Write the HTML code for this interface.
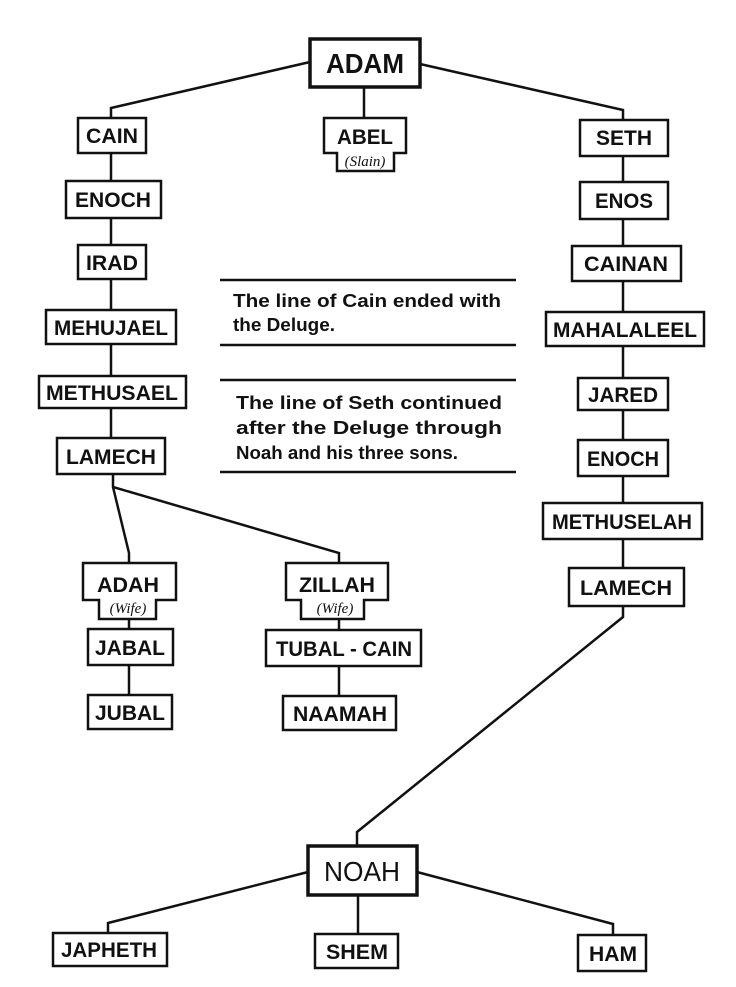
<!DOCTYPE html>
<html><head><meta charset="utf-8"><style>
html,body{margin:0;padding:0;background:#fff;}
svg{display:block;}
text{font-family:"Liberation Sans Narrow","Liberation Sans",sans-serif;fill:#111;}
.n{font-size:21px;font-weight:bold;text-anchor:middle;}
.b{font-size:28px;font-weight:bold;text-anchor:middle;}
.s{font-size:15px;font-style:italic;text-anchor:middle;font-family:"Liberation Serif",serif;}
.t{font-size:18px;font-weight:bold;}
</style></head><body>
<svg width="736" height="987" viewBox="0 0 736 987" xmlns="http://www.w3.org/2000/svg">
<g fill="none" stroke="#111" stroke-width="2.5">
<polyline points="310,62 111,108 111,118"/>
<polyline points="420,64 623,110 623,120"/>
<line x1="364" y1="87" x2="364" y2="118"/>
<line x1="111" y1="153" x2="111" y2="181"/>
<line x1="111" y1="218" x2="111" y2="245"/>
<line x1="111" y1="279" x2="111" y2="310"/>
<line x1="111" y1="344" x2="111" y2="376"/>
<line x1="111" y1="408" x2="111" y2="438"/>
<polyline points="113,474 113,487 129,553 129,563"/>
<polyline points="113,487 339,553 339,563"/>
<line x1="129" y1="619" x2="129" y2="629"/>
<line x1="129" y1="665" x2="129" y2="695"/>
<line x1="339" y1="619" x2="339" y2="630"/>
<line x1="339" y1="666" x2="339" y2="696"/>
<line x1="623" y1="156" x2="623" y2="182"/>
<line x1="623" y1="219" x2="623" y2="246"/>
<line x1="623" y1="281" x2="623" y2="312"/>
<line x1="623" y1="346" x2="623" y2="378"/>
<line x1="623" y1="410" x2="623" y2="440"/>
<line x1="623" y1="476" x2="623" y2="503"/>
<line x1="623" y1="539" x2="623" y2="568"/>
<polyline points="623,606 623,617 357,832 357,846"/>
<polyline points="308,872 108,923 108,933"/>
<polyline points="417,872 613,924 613,935"/>
<line x1="358" y1="895" x2="358" y2="934"/>
<line x1="220" y1="280" x2="516" y2="280"/>
<line x1="220" y1="345" x2="516" y2="345"/>
<line x1="220" y1="380" x2="516" y2="380"/>
<line x1="220" y1="472" x2="516" y2="472"/>
<rect x="310" y="39" width="110" height="48" stroke-width="3.5"/>
<rect x="308" y="846" width="109" height="49" stroke-width="3.5"/>
<rect x="78" y="118" width="68" height="35"/>
<rect x="66" y="181" width="95" height="37"/>
<rect x="78" y="245" width="68" height="34"/>
<rect x="46" y="310" width="130" height="34"/>
<rect x="39" y="376" width="147" height="32"/>
<rect x="57" y="438" width="108" height="36"/>
<rect x="580" y="120" width="88" height="36"/>
<rect x="580" y="182" width="88" height="37"/>
<rect x="572" y="246" width="109" height="35"/>
<rect x="546" y="312" width="158" height="34"/>
<rect x="578" y="378" width="90" height="32"/>
<rect x="578" y="440" width="90" height="36"/>
<rect x="543" y="503" width="159" height="36"/>
<rect x="569" y="568" width="115" height="38"/>
<rect x="88" y="629" width="85" height="36"/>
<rect x="88" y="695" width="84" height="34"/>
<rect x="266" y="630" width="155" height="36"/>
<rect x="283" y="696" width="113" height="34"/>
<rect x="53" y="933" width="114" height="33"/>
<rect x="315" y="934" width="83" height="34"/>
<rect x="578" y="935" width="68" height="36"/>
<path d="M324,118 H406 V153 H394 V171 H337 V153 H324 Z"/>
<path d="M83,563 H176 V600 H156 V619 H99 V600 H83 Z"/>
<path d="M286,563 H388 V600 H364 V619 H301 V600 H286 Z"/>
</g>
<text class="b" x="365" y="73" textLength="78" lengthAdjust="spacingAndGlyphs">ADAM</text>
<text class="b" x="362" y="881" textLength="76" lengthAdjust="spacingAndGlyphs" style="font-weight:normal">NOAH</text>
<text class="n" x="112" y="143" textLength="52" lengthAdjust="spacingAndGlyphs">CAIN</text>
<text class="n" x="113" y="207" textLength="76" lengthAdjust="spacingAndGlyphs">ENOCH</text>
<text class="n" x="112" y="270" textLength="52" lengthAdjust="spacingAndGlyphs">IRAD</text>
<text class="n" x="111" y="335" textLength="114" lengthAdjust="spacingAndGlyphs">MEHUJAEL</text>
<text class="n" x="112" y="400" textLength="132" lengthAdjust="spacingAndGlyphs">METHUSAEL</text>
<text class="n" x="111" y="464" textLength="90" lengthAdjust="spacingAndGlyphs">LAMECH</text>
<text class="n" x="365" y="144" textLength="56" lengthAdjust="spacingAndGlyphs">ABEL</text>
<text class="s" x="365" y="166">(Slain)</text>
<text class="n" x="624" y="145" textLength="56" lengthAdjust="spacingAndGlyphs">SETH</text>
<text class="n" x="624" y="208" textLength="58" lengthAdjust="spacingAndGlyphs">ENOS</text>
<text class="n" x="626" y="271" textLength="84" lengthAdjust="spacingAndGlyphs">CAINAN</text>
<text class="n" x="625" y="337" textLength="144" lengthAdjust="spacingAndGlyphs">MAHALALEEL</text>
<text class="n" x="623" y="402" textLength="70" lengthAdjust="spacingAndGlyphs">JARED</text>
<text class="n" x="623" y="466" textLength="72" lengthAdjust="spacingAndGlyphs">ENOCH</text>
<text class="n" x="622" y="529" textLength="140" lengthAdjust="spacingAndGlyphs">METHUSELAH</text>
<text class="n" x="626" y="595" textLength="92" lengthAdjust="spacingAndGlyphs">LAMECH</text>
<text class="n" x="128" y="592" textLength="62" lengthAdjust="spacingAndGlyphs">ADAH</text>
<text class="s" x="128" y="613">(Wife)</text>
<text class="n" x="337" y="592" textLength="76" lengthAdjust="spacingAndGlyphs">ZILLAH</text>
<text class="s" x="335" y="613">(Wife)</text>
<text class="n" x="130" y="655" textLength="70" lengthAdjust="spacingAndGlyphs">JABAL</text>
<text class="n" x="130" y="720" textLength="70" lengthAdjust="spacingAndGlyphs">JUBAL</text>
<text class="n" x="344" y="656" textLength="136" lengthAdjust="spacingAndGlyphs">TUBAL - CAIN</text>
<text class="n" x="340" y="721" textLength="94" lengthAdjust="spacingAndGlyphs">NAAMAH</text>
<text class="n" x="109" y="957" textLength="96" lengthAdjust="spacingAndGlyphs">JAPHETH</text>
<text class="n" x="357" y="959" textLength="62" lengthAdjust="spacingAndGlyphs">SHEM</text>
<text class="n" x="613" y="961" textLength="48" lengthAdjust="spacingAndGlyphs">HAM</text>
<text class="t" x="233" y="307" textLength="268" lengthAdjust="spacingAndGlyphs">The line of Cain ended with</text>
<text class="t" x="233" y="331" textLength="102" lengthAdjust="spacingAndGlyphs">the Deluge.</text>
<text class="t" x="236" y="409" textLength="266" lengthAdjust="spacingAndGlyphs">The line of Seth continued</text>
<text class="t" x="236" y="434" textLength="266" lengthAdjust="spacingAndGlyphs">after the Deluge through</text>
<text class="t" x="236" y="459" textLength="222" lengthAdjust="spacingAndGlyphs">Noah and his three sons.</text>
</svg>
</body></html>
